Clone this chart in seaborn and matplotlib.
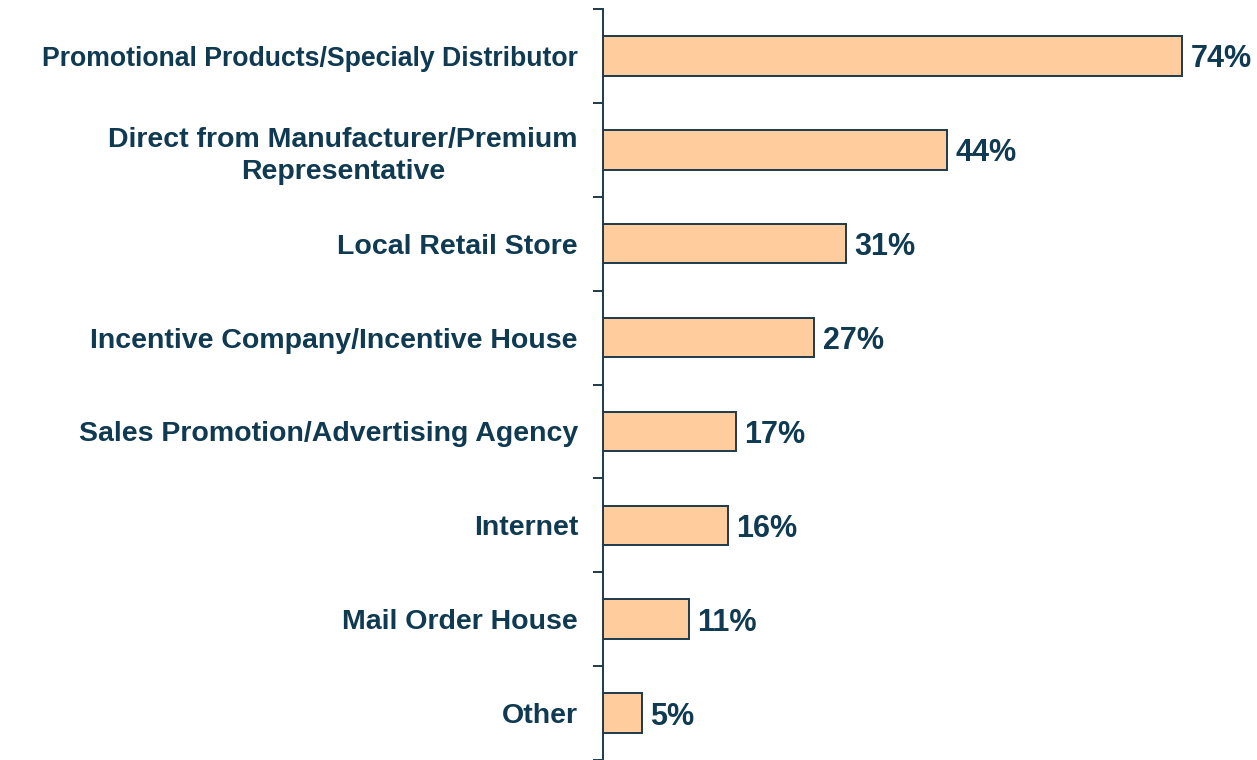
import matplotlib
matplotlib.use("Agg")
import matplotlib.pyplot as plt
import numpy as np
import pandas as pd
import seaborn as sns

# ── Data ────────────────────────────────────────────────────────────────
categories = [
    "Promotional Products/Specialy Distributor",
    "Direct from Manufacturer/Premium\nRepresentative",
    "Local Retail Store",
    "Incentive Company/Incentive House",
    "Sales Promotion/Advertising Agency",
    "Internet",
    "Mail Order House",
    "Other",
]
values = [74, 44, 31, 27, 17, 16, 11, 5]

# ── Style ───────────────────────────────────────────────────────────────
NAVY = "#0F3A52"
PEACH = "#FFCC9E"
EDGE = "#1E3A4C"

sns.set_style("white")
plt.rcParams["font.family"] = ["Liberation Sans", "DejaVu Sans"]

df = pd.DataFrame({"category": categories, "value": values})

fig = plt.figure(figsize=(12.57, 7.6), dpi=100)
W, H = 1257, 760
ax = fig.add_axes([603 / W, 0, 626 / W, (760 - 9) / H])

sns.barplot(data=df, x="value", y="category", ax=ax, color=PEACH,
            edgecolor=EDGE, linewidth=1.4, width=0.42, saturation=1)

ax.set_xlim(0, 80)
ax.set_ylim(len(categories) - 0.5, -0.5)
ax.set_xlabel("")
ax.set_ylabel("")
ax.set_xticks([])

# tick marks sit between categories
ax.set_yticks(np.arange(len(categories)))
ax.set_yticklabels(categories, fontsize=20.5, fontweight="bold", color=NAVY,
                   multialignment="center", linespacing=1.3)
# the longest label is set a little tighter so it fits
ax.get_yticklabels()[0].set_fontsize(19.2)
ax.tick_params(axis="y", which="major", left=True, length=0, pad=18)
ax.set_yticks(np.arange(-0.5, len(categories)), minor=True)
ax.tick_params(axis="y", which="minor", left=True, length=7.5, width=1.4, color=EDGE)

for s in ["top", "right", "bottom"]:
    ax.spines[s].set_visible(False)
ax.spines["left"].set_color(EDGE)
ax.spines["left"].set_linewidth(1.4)

for i, v in enumerate(values):
    ax.annotate(f"{v}%", xy=(v, i), xytext=(6, 0), textcoords="offset points",
                va="center_baseline", ha="left", fontsize=22,
                fontweight="bold", color=NAVY)

fig.savefig("out.png", dpi=100)
